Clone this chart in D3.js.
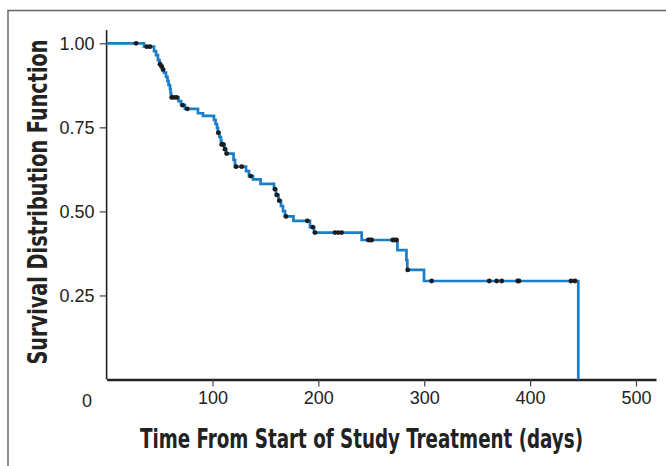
<!DOCTYPE html>
<html>
<head>
<meta charset="utf-8">
<script src="https://cdn.jsdelivr.net/npm/d3@7"></script>
<style>
  html, body { margin: 0; padding: 0; background: #fff; }
  svg { display: block; }
</style>
</head>
<body>
<svg id="chart" width="666" height="466"></svg>
<script>
// Kaplan-Meier steps: time of drop (days) and survival after it
const eventDays = [35.3, 44.8, 46.7, 48.5, 50.0, 51.4, 52.8, 54.2, 56.1, 57.5, 58.5, 59.9, 60.4, 61.0,
  67.9, 70.3, 74.0, 86.3, 91.0, 101.4, 102.9, 104.3, 105.2, 106.6, 108.0, 108.5, 111.3, 112.8,
  119.9, 121.3, 131.7, 134.5, 138.3, 145.4, 158.1, 160.0, 162.4, 164.7, 166.6, 168.5, 176.5,
  192.1, 195.9, 240.9, 274.7, 283.2, 284.0, 299.8, 445.5];
const survival = [0.990, 0.977, 0.965, 0.950, 0.938, 0.931, 0.922, 0.913, 0.900, 0.888, 0.876, 0.864, 0.852, 0.839,
  0.828, 0.816, 0.805, 0.792, 0.784, 0.772, 0.760, 0.748, 0.734, 0.721, 0.709, 0.699, 0.685, 0.672,
  0.653, 0.633, 0.620, 0.605, 0.595, 0.582, 0.566, 0.549, 0.532, 0.516, 0.501, 0.485, 0.472,
  0.453, 0.437, 0.415, 0.385, 0.355, 0.326, 0.293, 0];
// censored observations (days)
const censorDays = [27.8, 37.9, 41.0, 50.4, 51.9, 53.3, 61.5, 63.7, 66.2, 71.9, 76.2, 105.5, 108.7, 110.2,
  111.8, 113.4, 122.2, 127.6, 136.1, 159.1, 160.7, 163.1, 169.4, 189.6, 194.7, 196.8, 215.7, 218.8,
  222.0, 247.2, 248.8, 250.4, 270.2, 272.0, 273.8, 284.4, 307.0, 361.4, 368.4, 373.2, 388.3, 389.5,
  438.6, 442.4];
const xTicks = [100, 200, 300, 400, 500];
const yTicks = [0.25, 0.50, 0.75, 1.00];

const svg = d3.select('#chart');
const tickFont = "'Liberation Sans', Arial, sans-serif";
const titleFont = "'Liberation Sans Narrow', 'DejaVu Sans Condensed', sans-serif";

// outer frame (left and top only)
svg.append('path')
  .attr('d', 'M8,466 V10.5 H666')
  .attr('fill', 'none').attr('stroke', '#666').attr('stroke-width', 1.5);

const x = d3.scaleLinear().domain([0, 518.9]).range([106.6, 656]);
const y = d3.scaleLinear().domain([0, 1]).range([379.5, 43.3]);

// step function value at a given day
const survAt = (t) => {
  let s = 1;
  eventDays.forEach((d, i) => { if (d <= t) s = survival[i]; });
  return s;
};

// --- axes ---
const xAxis = svg.append('g')
  .attr('transform', `translate(0,${y(0)})`)
  .call(d3.axisBottom(x).tickValues(xTicks).tickSize(7).tickSizeOuter(0).tickPadding(5).tickFormat(d3.format('d')));
xAxis.select('.domain').attr('stroke', '#222').attr('stroke-width', 2.5);
xAxis.selectAll('.tick line').attr('stroke', '#444').attr('stroke-width', 1.2);
xAxis.selectAll('.tick text')
  .attr('fill', '#222').style('font-family', tickFont).style('font-size', '18px');

const yAxis = svg.append('g')
  .attr('transform', `translate(${x(0)},0)`)
  .call(d3.axisLeft(y).tickValues(yTicks).tickSize(7).tickSizeOuter(0).tickPadding(5).tickFormat(d3.format('.2f')));
yAxis.select('.domain').attr('d', `M0,30V${y(0)}`).attr('stroke', '#222').attr('stroke-width', 1.6);
yAxis.selectAll('.tick line').attr('stroke', '#444').attr('stroke-width', 1.2);
yAxis.selectAll('.tick text')
  .attr('fill', '#222').style('font-family', tickFont).style('font-size', '18px');

// shared origin label
svg.append('text')
  .attr('x', 87).attr('y', 407)
  .attr('text-anchor', 'middle')
  .attr('fill', '#222').style('font-family', tickFont).style('font-size', '18px')
  .text('0');

// --- survival curve ---
const pts = [[0, 1]].concat(eventDays.map((d, i) => [d, survival[i]]));
const line = d3.line()
  .x(d => x(d[0])).y(d => y(d[1]))
  .curve(d3.curveStepAfter);

svg.append('path')
  .datum(pts)
  .attr('d', line)
  .attr('fill', 'none')
  .attr('stroke', '#1a7fc6')
  .attr('stroke-width', 2.7)
  .attr('stroke-linejoin', 'miter');

// censor marks
svg.selectAll('.censor')
  .data(censorDays)
  .enter()
  .append('circle')
  .attr('class', 'censor')
  .attr('cx', d => x(d))
  .attr('cy', d => y(survAt(d)))
  .attr('r', 2.4)
  .attr('fill', '#1c1c1c');

// --- axis titles ---
svg.append('text')
  .attr('x', 361.5).attr('y', 448)
  .attr('text-anchor', 'middle')
  .attr('textLength', 443).attr('lengthAdjust', 'spacingAndGlyphs')
  .attr('fill', '#222')
  .style('font-family', titleFont).style('font-weight', 'bold').style('font-size', '26px')
  .text('Time From Start of Study Treatment (days)');

svg.append('text')
  .attr('transform', 'translate(47,202) rotate(-90)')
  .attr('text-anchor', 'middle')
  .attr('textLength', 325).attr('lengthAdjust', 'spacingAndGlyphs')
  .attr('fill', '#222')
  .style('font-family', titleFont).style('font-weight', 'bold').style('font-size', '26px')
  .text('Survival Distribution Function');
</script>
</body>
</html>
